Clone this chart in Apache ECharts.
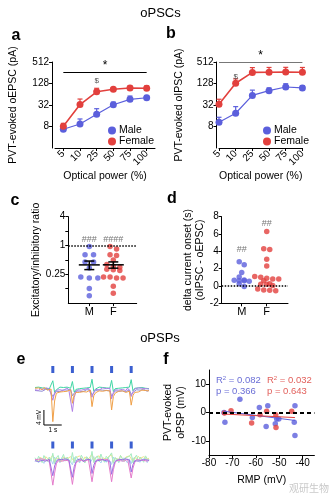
<!DOCTYPE html>
<html>
<head>
<meta charset="utf-8">
<script src="https://cdn.jsdelivr.net/npm/echarts@6/dist/echarts.min.js"></script>
<style>
  html, body { margin: 0; padding: 0; background: #fff; }
  #c { width: 332px; height: 502px; }
</style>
</head>
<body>
<div id="c"></div>
<script>
// ---------- data ----------
const powers = ['5', '10', '25', '50', '75', '100'];

// a: PVT-evoked oEPSC (pA), mean and upper SEM
const epscMale = [6.7, 9.4, 17.6, 32.6, 46, 51];
const epscMaleErr = [0.6, 3.6, 7.6, 6, 11, 8];
const epscFemale = [8.1, 33, 75, 88, 96, 94];
const epscFemaleErr = [1.7, 14, 19, 11, 14, 16];

// b: PVT-evoked oIPSC (pA), mean and upper SEM
const ipscMale = [10.5, 18.8, 59.5, 80.5, 102, 96];
const ipscMaleErr = [4, 10, 24, 16, 24, 15];
const ipscFemale = [33.4, 130, 262, 265, 268, 265];
const ipscFemaleErr = [13, 43, 95, 95, 95, 95];

const abTicks = [8, 32, 128, 512];

// c: excitatory / inhibitory ratio per cell
const eiMale = [0.95, 0.64, 0.64, 0.45, 0.45, 0.34, 0.22, 0.21, 0.21, 0.126, 0.089];
const eiFemale = [0.95, 0.85, 0.64, 0.62, 0.5, 0.4, 0.37, 0.35, 0.32, 0.31, 0.3, 0.22, 0.22, 0.21, 0.21, 0.14, 0.1];
const cTicks = [0.125, 0.25, 0.5, 1, 2, 4];
const cLabels = [0.25, 1, 4];

// d: delta current onset (s), oIPSC - oEPSC
const onsetMale = [2.8, 2.45, 1.55, 1.05, 0.7, 0.65, 0.6, 0.6, 0.55, 0.25, -0.05];
const onsetFemale = [6.3, 4.3, 4.2, 3.1, 2.3, 1.1, 1.0, 0.9, 0.8, 0.8, 0.6, 0.25, 0.2, 0.2, 0.05, -0.35, -0.45, -0.5, -0.55];

// e: example oPSP traces (mV), sampled every 0.1 s
const traceStep = 0.1;
const stimTimes = [1.0, 2.1, 3.2, 4.3, 5.4];
const maleTraces = {
  slate: [-0.4,-0.1,-0.5,-0.2,-0.6,-0.3,-0.1,-0.5,-0.2,-0.4,
    -2.0,-1.3,-0.6,-0.3,-0.7,-0.4,-0.2,-0.6,-0.3,-0.5,-0.1,
    -1.8,-1.1,-0.5,-0.2,-0.6,-0.3,-0.7,-0.4,-0.2,-0.5,-0.3,
    -1.6,-1.0,-0.4,-0.6,-0.2,-0.5,-0.3,-0.7,-0.4,-0.1,-0.5,
    -1.9,-1.2,-0.5,-0.3,-0.6,-0.2,-0.5,-0.4,-0.7,-0.3,-0.2,
    -1.5,-0.9,-0.4,-0.2,-0.6,-0.3,-0.5,-0.1,-0.4,-0.6,-0.3],
  teal: [0.4,0.2,0.5,0.1,0.3,0.6,0.2,0.4,0.0,0.3,
    2.2,-0.9,-0.2,0.3,0.5,0.2,0.4,0.1,0.5,0.3,0.2,
    2.0,-0.8,-0.1,0.4,0.1,0.5,0.2,0.6,0.3,0.1,0.4,
    2.6,-0.6,0.0,0.3,0.5,0.2,0.4,0.1,0.3,0.6,0.2,
    2.3,-0.7,0.1,0.4,0.2,0.5,0.3,0.1,0.4,0.2,0.5,
    2.5,-0.5,0.2,0.5,0.3,0.1,0.4,0.6,0.2,0.3,0.1],
  purple: [-0.2,0.1,-0.4,0.2,0.0,-0.3,0.3,-0.1,0.1,-0.2,
    -3.0,-1.0,-0.3,0.1,-0.2,0.2,-0.4,0.0,0.3,-0.3,0.1,
    -6.0,-2.2,-0.8,-0.2,0.1,-0.3,0.2,-0.1,-0.4,0.2,0.0,
    -2.2,-0.8,-0.1,0.2,-0.3,0.0,0.3,-0.2,0.1,-0.3,0.2,
    -2.6,-0.9,-0.2,0.1,-0.3,0.2,-0.1,0.0,-0.4,0.3,-0.1,
    -2.0,-0.7,0.0,-0.2,0.3,-0.1,0.2,-0.3,0.1,-0.2,0.0],
  orange: [0.2,-0.1,0.3,0.0,-0.2,0.4,0.1,-0.3,0.2,0.0,
    -8.7,-3.2,-1.1,-0.6,-0.8,-0.4,-0.7,-0.3,-0.6,-0.5,-0.2,
    -3.8,-1.5,-0.9,-0.6,-0.9,-0.5,-0.7,-0.4,-0.8,-0.6,-0.3,
    -4.7,-1.8,-1.0,-0.7,-0.5,-0.9,-0.6,-0.8,-0.4,-0.7,-0.5,
    -5.6,-2.0,-1.1,-0.8,-0.6,-0.9,-0.5,-0.7,-0.9,-0.4,-0.6,
    -4.3,-1.7,-0.9,-0.6,-0.8,-0.5,-0.3,-0.7,-0.4,-0.2,-0.5]
};
const femaleTraces = {
  lightblue: [-0.4,0.3,-0.8,0.5,-0.2,-0.9,0.2,0.6,-0.6,0.1,
    -1.1,0.8,-0.4,0.2,-0.7,0.6,-0.3,-0.8,0.4,0.0,-0.5,
    -1.3,0.7,-0.4,0.4,-0.8,0.2,0.6,-0.6,-0.2,0.5,-0.7,
    -1.0,0.9,-0.5,0.3,-0.2,-0.8,0.4,0.1,-0.6,0.6,-0.3,
    -1.2,0.8,-0.2,0.4,-0.7,0.2,-0.4,0.6,-0.2,-0.8,0.3,
    -1.0,0.6,-0.6,0.2,0.4,-0.6,0.1,-0.3,0.5,-0.7,0.2],
  yellow: [0.2,0.6,-0.3,0.8,0.4,-0.2,0.9,0.4,0.0,0.7,
    1.3,-0.5,0.6,1.0,0.2,-0.4,0.8,1.2,0.3,-0.2,0.9,
    1.4,-0.4,0.6,0.1,1.1,0.5,-0.3,0.8,1.3,0.2,0.6,
    1.6,-0.4,0.7,0.3,1.1,-0.2,0.6,1.0,0.2,0.8,0.4,
    1.4,-0.6,0.5,1.0,0.1,1.2,0.4,-0.2,0.8,0.6,1.1,
    1.3,-0.4,0.8,0.2,1.0,0.4,-0.1,0.9,0.6,0.2,0.5],
  lightgreen: [0.6,-0.4,1.0,0.2,-0.7,1.2,0.3,-0.4,0.8,-0.2,
    1.8,-1.0,0.6,1.2,-0.6,0.4,1.5,-0.3,0.8,0.1,-0.6,
    2.0,-0.8,1.0,0.2,-0.5,1.3,0.4,-0.8,0.9,1.4,-0.2,
    2.3,-0.7,0.5,1.1,-0.4,1.6,0.2,-0.6,1.0,0.4,1.2,
    1.9,-0.9,0.7,0.3,-0.6,1.2,1.4,-0.4,0.6,0.2,1.0,
    1.7,-0.8,0.6,1.3,-0.3,0.8,0.2,-0.6,1.1,0.4,-0.2],
  pink: [0.1,-0.3,0.2,-0.1,0.3,-0.2,0.0,0.2,-0.3,0.1,
    -6.7,-3.5,-1.0,-0.2,0.1,-0.3,0.2,-0.1,0.0,-0.2,0.1,
    -6.5,-3.2,-0.9,-0.3,0.2,-0.1,0.0,-0.3,0.2,0.1,-0.2,
    -5.8,-2.8,-0.8,0.1,-0.2,0.2,-0.1,0.0,-0.3,0.2,0.0,
    -5.8,-2.6,-0.7,-0.1,0.2,-0.2,0.1,-0.3,0.0,0.2,-0.1,
    -4.8,-2.2,-0.6,0.1,-0.2,0.0,0.2,-0.1,0.1,-0.3,0.0],
  purple: [-0.2,0.3,-0.4,0.1,-0.1,0.4,-0.3,0.0,0.2,-0.2,
    -4.2,-1.6,-0.4,0.2,-0.3,0.1,-0.2,0.3,-0.1,0.0,-0.4,
    -4.6,-1.8,-0.5,0.1,-0.2,0.3,-0.4,0.0,0.2,-0.1,0.1,
    -3.6,-1.4,-0.3,0.2,-0.1,-0.4,0.1,0.3,-0.2,0.0,-0.3,
    -3.8,-1.5,-0.4,0.0,0.2,-0.3,0.1,-0.1,0.3,-0.2,0.0,
    -3.2,-1.2,-0.2,0.1,-0.3,0.2,0.0,-0.2,0.1,0.3,-0.1]
};

// f: resting membrane potential (mV) vs PVT-evoked oPSP (mV)
const rmpMale = [-73.6, -73.2, -66.8, -61.5, -58.5, -54.9, -55.6, -51.1, -50.2, -51.7, -43.3, -43.6, -43.3];
const psPMale = [0.0, -3.4, 4.7, -1.8, 1.8, 2.4, -4.9, -2.3, -2.3, -4.0, 2.4, -3.4, -8.1];
const rmpFemale = [-73.4, -70.6, -61.8, -58.2, -55.4, -51.5, -51.4, -44.7];
const psPFemale = [-0.2, 0.6, -3.7, -0.8, 0.4, -0.8, -5.3, 0.4];
const statsMale = { r2: '0.082', p: '0.366' };
const statsFemale = { r2: '0.032', p: '0.643' };
const fXTicks = [-80, -70, -60, -50, -40];
const fYTicks = [-10, 0, 10];

// ---------- styling ----------
const FONT = '"Liberation Sans", Arial, sans-serif';
const BLUE = '#5b5fdc';
const RED = '#e2403d';
const TRACE_COLORS = {
  slate: '#8e8ed6', teal: '#3fd6a4', purple: '#b07fe6', orange: '#f0a048',
  lightblue: '#a9d6f2', yellow: '#f1e38c', lightgreen: '#a6ecc2', pink: '#e57ccb'
};
const FEMALE_PURPLE = '#9b6fe2';

const axisBase = {
  axisLine: { show: true, onZero: false, lineStyle: { color: '#000', width: 1 } },
  axisTick: { show: true, length: 3, lineStyle: { color: '#000', width: 1 } },
  axisLabel: { color: '#000', fontSize: 10, fontFamily: FONT, margin: 3 },
  splitLine: { show: false },
  nameTextStyle: { color: '#000', fontSize: 10.5, fontFamily: FONT }
};
function ax(extra) {
  const o = JSON.parse(JSON.stringify(axisBase));
  for (const k in extra) {
    if (o[k] && typeof o[k] === 'object' && !Array.isArray(o[k]) && typeof extra[k] === 'object') {
      Object.assign(o[k], extra[k]);
    } else {
      o[k] = extra[k];
    }
  }
  return o;
}

// ---------- helpers ----------
function mean(a) { return a.reduce((s, v) => s + v, 0) / a.length; }
function sem(a) {
  const m = mean(a);
  const sd = Math.sqrt(a.reduce((s, v) => s + (v - m) * (v - m), 0) / (a.length - 1));
  return sd / Math.sqrt(a.length);
}
function fit(xs, ys) {
  const mx = mean(xs), my = mean(ys);
  let sxy = 0, sxx = 0;
  xs.forEach((x, i) => { sxy += (x - mx) * (ys[i] - my); sxx += (x - mx) * (x - mx); });
  const slope = sxy / sxx;
  return { slope, intercept: my - slope * mx };
}
// Spread points of one group horizontally so markers in a row do not overlap.
// toPx maps a value to vertical pixels; pxPerUnit converts x pixels to axis units.
function swarm(center, values, toPx, pxPerUnit, spacing, rowTol) {
  const idx = values.map((v, i) => i).sort((i, j) => toPx(values[i]) - toPx(values[j]));
  const out = [];
  let row = [];
  const flush = () => {
    row.forEach((i, k) => {
      const off = (k - (row.length - 1) / 2) * spacing;
      out.push([center + off / pxPerUnit, values[i]]);
    });
    row = [];
  };
  idx.forEach(i => {
    if (row.length && Math.abs(toPx(values[i]) - toPx(values[row[0]])) > rowTol) flush();
    row.push(i);
  });
  flush();
  return out;
}
function errRender(color) {
  return function (params, api) {
    const x = api.value(0), m = api.value(1), e = api.value(2);
    const p0 = api.coord([x, m]);
    const p1 = api.coord([x, m + e]);
    const st = { stroke: color, lineWidth: 1.2 };
    return { type: 'group', children: [
      { type: 'line', shape: { x1: p0[0], y1: p0[1], x2: p1[0], y2: p1[1] }, style: st },
      { type: 'line', shape: { x1: p1[0] - 2.5, y1: p1[1], x2: p1[0] + 2.5, y2: p1[1] }, style: st }
    ] };
  };
}
function meanSemRender(params, api) {
  const x = api.value(0), m = api.value(1), s = api.value(2);
  const pm = api.coord([x, m]), pt = api.coord([x, m + s]), pb = api.coord([x, m - s]);
  const st = { stroke: '#000', lineWidth: 1.5 };
  return { type: 'group', children: [
    { type: 'line', shape: { x1: pm[0] - 10.5, y1: pm[1], x2: pm[0] + 10.5, y2: pm[1] }, style: st },
    { type: 'line', shape: { x1: pt[0], y1: pt[1], x2: pb[0], y2: pb[1] }, style: st },
    { type: 'line', shape: { x1: pt[0] - 5, y1: pt[1], x2: pt[0] + 5, y2: pt[1] }, style: st },
    { type: 'line', shape: { x1: pb[0] - 5, y1: pb[1], x2: pb[0] + 5, y2: pb[1] }, style: st }
  ] };
}
function textMark(coord, text, size, color) {
  return {
    coord, symbol: 'circle', symbolSize: 0,
    label: { show: true, formatter: text, position: 'inside', fontSize: size, color, fontFamily: FONT }
  };
}

// ---------- layout ----------
const G = {
  a: { left: 55, top: 62, width: 100, height: 86 },
  b: { left: 219, top: 62, width: 83.4, height: 86 },
  c: { left: 68.3, top: 216.7, width: 68.4, height: 86.4 },
  d: { left: 221.7, top: 216.7, width: 66.3, height: 86.6 },
  e1: { left: 35, top: 359, width: 114, height: 71.25 },
  e2: { left: 35, top: 437.5, width: 114, height: 52.5 },
  f: { left: 209, top: 370, width: 105.4, height: 85 }
};
const grids = Object.keys(G).map(k => G[k]);

// c: log2 axis from 1/16 to 4
const cMin = 0.0625, cMax = 4;
const cPxY = v => -Math.log2(v) * G.c.height / (Math.log2(cMax) - Math.log2(cMin));
const cX = [0.125, 2.975];
const cPxX = G.c.width / (cX[1] - cX[0]);
const cMalePts = swarm(1, eiMale, cPxY, cPxX, 8.5, 3.5);
const cFemalePts = swarm(2, eiFemale, cPxY, cPxX, 6.5, 3.5);

// d: linear axis -2..8
const dPxY = v => -v * G.d.height / 10;
const dX = [0.2, 2.85];
const dPxX = G.d.width / (dX[1] - dX[0]);
const dMalePts = swarm(1, onsetMale, dPxY, dPxX, 5, 3.2);
const dFemalePts = swarm(2, onsetFemale, dPxY, dPxX, 6, 3.2);

// f: regression lines over the range of recorded cells
const allRmp = rmpMale.concat(rmpFemale);
const rmpRange = [Math.min.apply(null, allRmp), Math.max.apply(null, allRmp)];
const fitM = fit(rmpMale, psPMale);
const fitF = fit(rmpFemale, psPFemale);
const fitLine = f => rmpRange.map(x => [x, f.slope * x + f.intercept]);

const traceData = arr => arr.map((v, i) => [+(i * traceStep).toFixed(2), v]);

// ---------- option ----------
const series = [];

// panel a
series.push({
  name: 'Male', type: 'line', xAxisIndex: 0, yAxisIndex: 0, data: epscMale,
  color: BLUE, symbol: 'circle', symbolSize: 7, lineStyle: { width: 1.2 }, z: 3
});
series.push({
  name: 'Female', type: 'line', xAxisIndex: 0, yAxisIndex: 0, data: epscFemale,
  color: RED, symbol: 'circle', symbolSize: 7, lineStyle: { width: 1.6 }, z: 3,
  markLine: {
    silent: true, symbol: 'none',
    lineStyle: { color: '#000', width: 1, type: 'solid' },
    label: { show: true, formatter: '*', position: 'insideMiddleTop', color: '#000', fontSize: 12, distance: 0 },
    data: [[{ coord: ['5', 270] }, { coord: ['100', 270] }]]
  },
  markPoint: { silent: true, data: [textMark(['25', 150], '$', 8, '#555')] }
});
series.push({ name: 'Male SEM a', type: 'custom', xAxisIndex: 0, yAxisIndex: 0,
  data: epscMale.map((m, i) => [i, m, epscMaleErr[i]]), encode: { x: 0, y: 1 }, renderItem: errRender(BLUE), z: 2 });
series.push({ name: 'Female SEM a', type: 'custom', xAxisIndex: 0, yAxisIndex: 0,
  data: epscFemale.map((m, i) => [i, m, epscFemaleErr[i]]), encode: { x: 0, y: 1 }, renderItem: errRender(RED), z: 2 });

// panel b
series.push({
  name: 'Male', type: 'line', xAxisIndex: 1, yAxisIndex: 1, data: ipscMale,
  color: BLUE, symbol: 'circle', symbolSize: 7, lineStyle: { width: 1.2 }, z: 3
});
series.push({
  name: 'Female', type: 'line', xAxisIndex: 1, yAxisIndex: 1, data: ipscFemale,
  color: RED, symbol: 'circle', symbolSize: 7, lineStyle: { width: 1.6 }, z: 3,
  markLine: {
    silent: true, symbol: 'none',
    lineStyle: { color: '#777', width: 1, type: 'solid' },
    label: { show: true, formatter: '*', position: 'insideMiddleTop', color: '#000', fontSize: 12, distance: 0 },
    data: [[{ coord: ['5', 512] }, { coord: ['100', 512] }]]
  },
  markPoint: { silent: true, data: [textMark(['10', 200], '$', 8, '#555')] }
});
series.push({ name: 'Male SEM b', type: 'custom', xAxisIndex: 1, yAxisIndex: 1,
  data: ipscMale.map((m, i) => [i, m, ipscMaleErr[i]]), encode: { x: 0, y: 1 }, renderItem: errRender(BLUE), z: 2 });
series.push({ name: 'Female SEM b', type: 'custom', xAxisIndex: 1, yAxisIndex: 1,
  data: ipscFemale.map((m, i) => [i, m, ipscFemaleErr[i]]), encode: { x: 0, y: 1 }, renderItem: errRender(RED), z: 2 });

// panel c
series.push({
  name: 'E/I M', type: 'scatter', xAxisIndex: 2, yAxisIndex: 2, data: cMalePts,
  color: BLUE, symbolSize: 5.5, z: 2,
  markLine: {
    silent: true, symbol: 'none', label: { show: false },
    lineStyle: { color: '#000', width: 1.6, type: [1.5, 1.5] },
    data: [{ yAxis: 1 }]
  },
  markPoint: { silent: true, data: [textMark([1, 1.33], '###', 9, '#777'), textMark([2, 1.33], '####', 9, '#777')] }
});
series.push({ name: 'E/I F', type: 'scatter', xAxisIndex: 2, yAxisIndex: 2, data: cFemalePts,
  color: RED, symbolSize: 5.5, z: 2 });
series.push({ name: 'E/I mean', type: 'custom', xAxisIndex: 2, yAxisIndex: 2,
  data: [[1, mean(eiMale), sem(eiMale)], [2, mean(eiFemale), sem(eiFemale)]],
  encode: { x: 0, y: 1 }, renderItem: meanSemRender, z: 4 });

// panel d
series.push({
  name: 'Onset M', type: 'scatter', xAxisIndex: 3, yAxisIndex: 3, data: dMalePts,
  color: BLUE, symbolSize: 5.5, z: 2,
  markLine: {
    silent: true, symbol: 'none', label: { show: false },
    lineStyle: { color: '#000', width: 1.6, type: [1.5, 1.5] },
    data: [{ yAxis: 0 }]
  },
  markPoint: { silent: true, data: [textMark([1, 4.25], '##', 9, '#777'), textMark([2, 7.25], '##', 9, '#777')] }
});
series.push({ name: 'Onset F', type: 'scatter', xAxisIndex: 3, yAxisIndex: 3, data: dFemalePts,
  color: RED, symbolSize: 5.5, z: 2 });

// panel e: traces
['slate', 'teal', 'purple', 'orange'].forEach(k => {
  series.push({ name: 'M trace ' + k, type: 'line', xAxisIndex: 4, yAxisIndex: 4, data: traceData(maleTraces[k]),
    showSymbol: false, color: TRACE_COLORS[k], lineStyle: { width: 1 }, silent: true });
});
['lightblue', 'yellow', 'lightgreen', 'pink', 'purple'].forEach(k => {
  series.push({ name: 'F trace ' + k, type: 'line', xAxisIndex: 5, yAxisIndex: 5, data: traceData(femaleTraces[k]),
    showSymbol: false, color: k === 'purple' ? FEMALE_PURPLE : TRACE_COLORS[k], lineStyle: { width: 1 }, silent: true });
});
// light stimulus markers, drawn above each trace group
function stimRender(gap) {
  return function (params, api) {
    const p = api.coord([api.value(0), 0]);
    const top = params.coordSys.y + gap;
    return { type: 'rect', shape: { x: p[0] - 1.5, y: top, width: 3, height: 7 }, style: { fill: '#3b5fd0' } };
  };
}
series.push({ name: 'stim M', type: 'custom', xAxisIndex: 4, yAxisIndex: 4,
  data: stimTimes.map(t => [t, 0]), encode: { x: 0, y: 1 }, renderItem: stimRender(7) });
series.push({ name: 'stim F', type: 'custom', xAxisIndex: 5, yAxisIndex: 5,
  data: stimTimes.map(t => [t, 0]), encode: { x: 0, y: 1 }, renderItem: stimRender(4) });
// scale bar: 4 mV by 1 s
const SCALE = { t: 0.5, v: -9.6, dt: 1, dv: 4 };
series.push({
  name: 'scale bar', type: 'custom', xAxisIndex: 4, yAxisIndex: 4,
  data: [[SCALE.t, SCALE.v]], encode: { x: 0, y: 1 },
  renderItem: function (params, api) {
    const o = api.coord([SCALE.t, SCALE.v]);
    const up = api.coord([SCALE.t, SCALE.v + SCALE.dv]);
    const rt = api.coord([SCALE.t + SCALE.dt, SCALE.v]);
    const st = { stroke: '#000', lineWidth: 1 };
    return { type: 'group', children: [
      { type: 'line', shape: { x1: o[0], y1: o[1], x2: up[0], y2: up[1] }, style: st },
      { type: 'line', shape: { x1: o[0], y1: o[1], x2: rt[0], y2: rt[1] }, style: st },
      { type: 'text', x: o[0] - 5, y: (o[1] + up[1]) / 2, rotation: Math.PI / 2,
        style: { text: '4 mV', fontSize: 6.5, fontFamily: FONT, fill: '#000', align: 'center', verticalAlign: 'middle' } },
      { type: 'text', x: (o[0] + rt[0]) / 2, y: o[1] + 5, style: { text: '1 s', fontSize: 6.5, fontFamily: FONT, fill: '#000', align: 'center', verticalAlign: 'middle' } }
    ] };
  }
});

// panel f
series.push({
  name: 'oPSP M', type: 'scatter', xAxisIndex: 6, yAxisIndex: 6, data: rmpMale.map((x, i) => [x, psPMale[i]]),
  color: BLUE, symbolSize: 5.5, z: 3,
  markLine: {
    silent: true, symbol: 'none', label: { show: false },
    lineStyle: { color: '#000', width: 2, type: [4, 3] },
    data: [{ yAxis: 0 }]
  }
});
series.push({ name: 'oPSP F', type: 'scatter', xAxisIndex: 6, yAxisIndex: 6, data: rmpFemale.map((x, i) => [x, psPFemale[i]]),
  color: RED, symbolSize: 5.5, z: 3 });
series.push({ name: 'fit M', type: 'line', xAxisIndex: 6, yAxisIndex: 6, data: fitLine(fitM), showSymbol: false,
  color: BLUE, lineStyle: { width: 1 }, z: 4, silent: true });
series.push({ name: 'fit F', type: 'line', xAxisIndex: 6, yAxisIndex: 6, data: fitLine(fitF), showSymbol: false,
  color: RED, lineStyle: { width: 1 }, z: 4, silent: true });

const labelTxt = (x, y, text, size, weight) => ({
  type: 'text', x, y, style: { text, fontSize: size, fontWeight: weight || 'normal', fontFamily: FONT, fill: '#000', align: 'center', verticalAlign: 'middle' }
});
const statTxt = (x, y, s, color) => ({
  type: 'text', x, y,
  style: {
    text: '{r|R}{s|2}{r| = ' + s.r2 + '}\n{r|p = ' + s.p + '}',
    fill: color, fontFamily: FONT, lineHeight: 11,
    rich: { r: { fontSize: 9.5, fill: color, fontFamily: FONT }, s: { fontSize: 6, fill: color, verticalAlign: 'top', fontFamily: FONT } }
  }
});

const xPowerLabel = { rotate: 45, margin: 4, interval: 0 };

const option = {
  animation: false,
  backgroundColor: '#fff',
  textStyle: { fontFamily: FONT },
  grid: grids.map(g => Object.assign({ containLabel: false }, g)),
  legend: [
    { left: 108, top: 125, orient: 'vertical', icon: 'circle', itemWidth: 8, itemHeight: 8, itemGap: 0,
      data: ['Male', 'Female'], textStyle: { fontSize: 10.5, fontFamily: FONT, color: '#000', lineHeight: 10, padding: [0, 0, 0, -2] }, padding: 0 },
    { left: 263, top: 125, orient: 'vertical', icon: 'circle', itemWidth: 8, itemHeight: 8, itemGap: 0,
      data: ['Male', 'Female'], textStyle: { fontSize: 10.5, fontFamily: FONT, color: '#000', lineHeight: 10, padding: [0, 0, 0, -2] }, padding: 0 }
  ],
  xAxis: [
    ax({ gridIndex: 0, type: 'category', data: powers, boundaryGap: true,
      axisTick: { alignWithLabel: true, interval: 0 }, axisLabel: xPowerLabel,
      name: 'Optical power (%)', nameLocation: 'middle', nameGap: 22 }),
    ax({ gridIndex: 1, type: 'category', data: powers, boundaryGap: false,
      axisTick: { interval: 0 }, axisLabel: xPowerLabel,
      name: 'Optical power (%)', nameLocation: 'middle', nameGap: 22 }),
    ax({ gridIndex: 2, type: 'value', min: cX[0], max: cX[1],
      axisTick: { customValues: [1, 2] },
      axisLabel: { customValues: [1, 2], fontSize: 11, formatter: v => (v === 1 ? 'M' : 'F') } }),
    ax({ gridIndex: 3, type: 'value', min: dX[0], max: dX[1],
      axisTick: { customValues: [1, 2] },
      axisLabel: { customValues: [1, 2], fontSize: 11, formatter: v => (v === 1 ? 'M' : 'F') } }),
    { gridIndex: 4, type: 'value', min: 0, max: 6.4, show: false },
    { gridIndex: 5, type: 'value', min: 0, max: 6.4, show: false },
    ax({ gridIndex: 6, type: 'value', min: -80, max: -35,
      axisTick: { customValues: fXTicks }, axisLabel: { customValues: fXTicks },
      name: 'RMP (mV)', nameLocation: 'middle', nameGap: 20 })
  ],
  yAxis: [
    ax({ gridIndex: 0, type: 'log', logBase: 2, min: 2, max: 512, offset: 3,
      axisTick: { customValues: abTicks }, axisLabel: { customValues: abTicks },
      name: 'PVT-evoked oEPSC (pA)', nameLocation: 'middle', nameGap: 33 }),
    ax({ gridIndex: 1, type: 'log', logBase: 2, min: 2, max: 512, offset: 2.5,
      axisTick: { customValues: abTicks }, axisLabel: { customValues: abTicks },
      name: 'PVT-evoked oIPSC (pA)', nameLocation: 'middle', nameGap: 32 }),
    ax({ gridIndex: 2, type: 'log', logBase: 2, min: cMin, max: cMax,
      axisTick: { customValues: cTicks }, axisLabel: { customValues: cLabels },
      name: 'Excitatory/inhibitory ratio', nameLocation: 'middle', nameGap: 25 }),
    ax({ gridIndex: 3, type: 'value', min: -2, max: 8, interval: 2,
      name: 'delta current onset (s)\n(oIPSC - oEPSC)', nameLocation: 'middle', nameGap: 14,
      nameTextStyle: { lineHeight: 12 } }),
    { gridIndex: 4, type: 'value', min: -11, max: 8, show: false },
    { gridIndex: 5, type: 'value', min: -8, max: 6, show: false },
    ax({ gridIndex: 6, type: 'value', min: -15, max: 15,
      axisTick: { customValues: fYTicks }, axisLabel: { customValues: fYTicks },
      name: 'PVT-evoked\noPSP (mV)', nameLocation: 'middle', nameGap: 13,
      nameTextStyle: { lineHeight: 13 } })
  ],
  series,
  graphic: [
    labelTxt(160.5, 13, 'oPSCs', 13),
    labelTxt(160, 338, 'oPSPs', 13),
    labelTxt(16, 36, 'a', 16, 'bold'),
    labelTxt(171, 34, 'b', 16, 'bold'),
    labelTxt(15, 201, 'c', 16, 'bold'),
    labelTxt(172, 199, 'd', 16, 'bold'),
    labelTxt(21, 360, 'e', 16, 'bold'),
    labelTxt(166, 360, 'f', 16, 'bold'),
    statTxt(216, 375, statsMale, '#6a6ed6'),
    statTxt(267, 375, statsFemale, '#e2605c'),
    { type: 'text', x: 309, y: 488, style: { text: '观研生物', fontSize: 10, fontFamily: '"Noto Sans CJK SC", sans-serif', fill: '#c9c9c9', align: 'center', verticalAlign: 'middle' } }
  ]
};

const chart = echarts.init(document.getElementById('c'));
chart.setOption(option);
</script>
</body>
</html>
